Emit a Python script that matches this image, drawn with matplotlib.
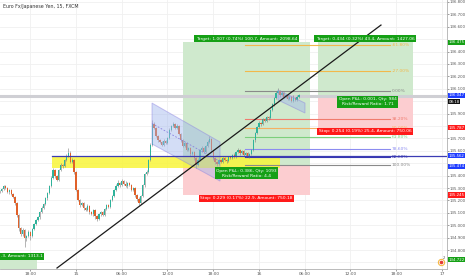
import numpy as np
import matplotlib.pyplot as plt
from matplotlib.patches import Polygon, Rectangle

# 15 minute candles of EUR/JPY, hours counted from the 15th 00:00
closes = [135.276, 135.292, 135.316, 135.300, 135.268, 135.284, 135.252, 135.227, 135.179, 135.082,
          134.977, 134.929, 134.961, 134.897, 134.913, 134.945, 134.913, 134.969, 135.010, 135.042,
          135.066, 135.106, 135.139, 135.171, 135.219, 135.260, 135.316, 135.381, 135.445, 135.397,
          135.364, 135.445, 135.485, 135.477, 135.526, 135.558, 135.582, 135.510, 135.526, 135.429,
          135.284, 135.203, 135.163, 135.179, 135.139, 135.123, 135.155, 135.106, 135.090, 135.123,
          135.074, 135.050, 135.090, 135.106, 135.082, 135.131, 135.163, 135.147, 135.203, 135.235,
          135.284, 135.316, 135.340, 135.324, 135.356, 135.332, 135.316, 135.340, 135.324, 135.284,
          135.300, 135.243, 135.211, 135.179, 135.235, 135.324, 135.413, 135.429, 135.526, 135.647,
          135.816, 135.784, 135.719, 135.687, 135.671, 135.647, 135.679, 135.663, 135.703, 135.768,
          135.800, 135.816, 135.784, 135.800, 135.735, 135.687, 135.639, 135.663, 135.606, 135.623,
          135.574, 135.590, 135.542, 135.485, 135.526, 135.606, 135.623, 135.590, 135.639, 135.671,
          135.695, 135.606, 135.542, 135.510, 135.493, 135.526, 135.510, 135.542, 135.526, 135.518,
          135.550, 135.542, 135.566, 135.550, 135.590, 135.606, 135.582, 135.598, 135.566, 135.582,
          135.558, 135.574, 135.606, 135.687, 135.743, 135.792, 135.824, 135.816, 135.856, 135.840,
          135.872, 135.864, 135.929, 135.977, 136.026, 136.066, 136.082, 136.050, 136.066, 136.034,
          136.050, 136.018, 136.034, 136.002, 136.026, 136.010, 136.034, 136.047]
# wick lengths in thousandths of a yen
wick_up = [8, 10, 6, 12, 5, 9, 7, 10, 6, 8,
           12, 9, 15, 7, 10, 14, 8, 11, 9, 6,
           10, 7, 12, 8, 9, 6, 11, 14, 20, 10,
           8, 12, 15, 9, 10, 18, 40, 16, 12, 10,
           8, 6, 10, 9, 12, 7, 14, 8, 10, 9,
           6, 11, 8, 12, 7, 10, 9, 8, 11, 7,
           10, 14, 22, 12, 16, 10, 25, 9, 12, 8,
           10, 7, 9, 14, 8, 12, 10, 15, 9, 12,
           30, 14, 10, 8, 9, 12, 15, 10, 8, 12,
           10, 20, 9, 14, 8, 6, 10, 12, 8, 9,
           7, 10, 8, 6, 12, 9, 14, 8, 10, 16,
           22, 8, 6, 9, 7, 10, 8, 12, 6, 9,
           8, 11, 7, 14, 9, 18, 10, 8, 12, 7,
           9, 6, 10, 12, 8, 9, 14, 10, 12, 8,
           10, 9, 12, 8, 10, 14, 22, 10, 16, 8,
           12, 9, 14, 8, 20, 10, 12, 9]
wick_down = [10, 7, 12, 8, 9, 14, 6, 10, 12, 15,
             20, 14, 18, 73, 25, 12, 30, 10, 8, 12,
             9, 12, 7, 10, 8, 12, 9, 10, 8, 14,
             10, 8, 7, 12, 9, 8, 10, 12, 9, 14,
             12, 10, 15, 8, 14, 10, 12, 18, 9, 14,
             20, 15, 10, 12, 9, 11, 8, 10, 7, 9,
             8, 10, 7, 12, 9, 10, 8, 12, 9, 10,
             8, 12, 14, 18, 10, 9, 12, 8, 10, 9,
             8, 12, 10, 14, 12, 9, 10, 8, 12, 9,
             8, 10, 12, 9, 10, 14, 8, 12, 9, 10,
             12, 9, 14, 25, 10, 8, 12, 9, 10, 8,
             9, 12, 14, 18, 12, 10, 9, 12, 10, 14,
             10, 8, 12, 9, 10, 8, 12, 10, 9, 12,
             10, 14, 9, 8, 12, 10, 8, 12, 9, 10,
             8, 12, 9, 10, 12, 9, 10, 14, 8, 12,
             9, 10, 8, 12, 9, 10, 8, 9]
first_open = 135.268
start_hour = -10.0

time_ticks = [-6, 0, 6, 12, 18, 24, 30, 36, 42, 48]
time_names = ['18:00', '15', '06:00', '12:00', '18:00', '16', '06:00', '12:00', '18:00', '17']
price_ticks = [134.8, 134.9, 135.0, 135.1, 135.2, 135.3, 135.4, 135.6, 135.7,
               135.9, 136.1, 136.2, 136.3, 136.4, 136.6, 136.7, 136.8]
grid_prices = [134.7, 134.8, 134.9, 135.0, 135.1, 135.2, 135.3, 135.4, 135.5, 135.6, 135.7,
               135.8, 135.9, 136.0, 136.1, 136.2, 136.3, 136.4, 136.5, 136.6, 136.7, 136.8]

# left long position
left_t = [14.0, 30.7]
left_entry, left_target, left_stop = 135.474, 136.475, 135.245
# right long position
right_t = [31.7, 44.2]
right_entry, right_target, right_stop = 136.041, 136.475, 135.787

# fibonacci retracement
fib_t = [22.2, 41.2]
fib_high, fib_low = 136.082, 135.485
fib_levels = [-0.618, -0.27, 0, 0.382, 0.5, 0.618, 0.786, 0.886, 1.0]
fib_names = ['-61.80%', '-27.00%', '0.00%', '38.20%', '50.00%', '61.80%', '78.60%', '88.60%', '100.00%']
fib_colors = ['#f2b84b', '#f2b84b', '#8a8a8a', '#f07b6e', '#f5b062', '#7ccf7c', '#8c8cf0', '#3838b0', '#8a8a8a']

# drawings
trend_t = [-2.49, 40.0]
trend_p = [134.655, 136.614]
support = 135.562
zone_t = [-3.15, 26.75]
zone_low = 135.461
channel1_t = [9.97, 18.89, 18.89, 9.97]
channel1_p = [135.985, 135.671, 135.356, 135.655]
channel2_t = [26.49, 30.03, 30.03, 26.49]
channel2_p = [136.090, 135.985, 135.905, 136.010]
last_line = 136.041

axis_labels = [(136.475, '136.475', '#15a015'), (136.047, '136.047', '#1f3dff'),
               (135.997, '08:18', '#111111'), (135.787, '135.787', '#ff1a1a'),
               (135.562, '135.562', '#1f3dff'), (135.474, '135.474', '#1f3dff'),
               (135.245, '135.245', '#ff1a1a'), (134.722, '134.722', '#15a015')]

up_col = '#2fb39b'
down_col = '#e0612a'
green_lab = '#15a015'
red_lab = '#ff1a1a'

t = start_hour + 0.25 * np.arange(len(closes))
c = np.array(closes)
o = np.concatenate([[first_open], c[:-1]])
hi = np.maximum(o, c) + np.array(wick_up) / 1000
lo = np.minimum(o, c) - np.array(wick_down) / 1000

fig = plt.figure(figsize=(4.66, 2.75), dpi=100)
ax = fig.add_axes([0, 6 / 275, 447 / 466, 269 / 275])
ax.set_xlim(-9.967, 48.66)
ax.set_ylim(134.647, 136.816)

for x in time_ticks:
    ax.axvline(x, color='#f0f0f0', lw=0.6, zorder=0)
for p in grid_prices:
    ax.axhline(p, color='#f0f0f0', lw=0.6, zorder=0)

# position boxes
ax.add_patch(Rectangle((left_t[0], left_entry), left_t[1] - left_t[0], left_target - left_entry,
                       fc='#cfe9cd', ec='none', zorder=1))
ax.add_patch(Rectangle((left_t[0], left_stop), left_t[1] - left_t[0], left_entry - left_stop,
                       fc='#fccdd0', ec='none', zorder=1))
ax.add_patch(Rectangle((right_t[0], right_entry), right_t[1] - right_t[0], right_target - right_entry,
                       fc='#cfe9cd', ec='none', zorder=1))
ax.add_patch(Rectangle((right_t[0], right_stop), right_t[1] - right_t[0], right_entry - right_stop,
                       fc='#fccdd0', ec='none', zorder=1))
ax.add_patch(Rectangle((start_hour, 134.6), 4.9, 134.72 - 134.6, fc='#cfe9cd', ec='none', zorder=1))

# yellow zone and support line
ax.add_patch(Rectangle((zone_t[0], zone_low), zone_t[1] - zone_t[0], support - zone_low,
                       fc='#f8f53a', alpha=0.85, ec='none', zorder=1.5))
ax.plot([zone_t[0], 48.66], [support, support], color='#3c3cb4', lw=0.9, zorder=4)
ax.axhline(last_line, color='#cfcfd4', lw=2.2, zorder=1.2)

# fib levels
fib_prices = [fib_high - lv * (fib_high - fib_low) for lv in fib_levels]
for p, name, col in zip(fib_prices, fib_names, fib_colors):
    ax.plot(fib_t, [p, p], color=col, lw=0.8, zorder=2)
    ax.text(fib_t[1] + 0.2, p, name, color=col, fontsize=3.2, va='center', ha='left', zorder=5)

# candles
up = c >= o
ax.vlines(t, lo, hi, color='#7d7d7d', lw=0.4, zorder=3)
ax.bar(t, np.maximum(np.abs(c - o), 0.003), bottom=np.minimum(o, c), width=0.17,
       color=np.where(up, up_col, down_col), zorder=3.2)

# channels
ax.add_patch(Polygon(list(zip(channel1_t, channel1_p)), closed=True, fc='#9fb4ec', alpha=0.45,
                     ec='#8a7fe0', lw=0.7, zorder=3.5))
ax.plot([channel1_t[0], channel1_t[1]],
        [(channel1_p[0] + channel1_p[3]) / 2, (channel1_p[1] + channel1_p[2]) / 2],
        color='#8a7fe0', lw=0.6, ls=(0, (2, 2)), zorder=3.6)
ax.add_patch(Polygon(list(zip(channel2_t, channel2_p)), closed=True, fc='#9fb4ec', alpha=0.45,
                     ec='#8a7fe0', lw=0.7, zorder=3.5))

# trend line
ax.plot(trend_t, trend_p, color='#1a1a1a', lw=0.9, zorder=6)

# position labels
box = lambda col: dict(boxstyle='square,pad=0.35', fc=col, ec='none')
lc = (left_t[0] + left_t[1]) / 2
rc = (right_t[0] + right_t[1]) / 2
ax.text(lc, left_target + 0.012, 'Target: 1.007 (0.74%) 100.7, Amount: 2098.64', color='white',
        fontsize=3.2, ha='center', va='bottom', bbox=box(green_lab), zorder=7)
ax.text(lc, left_stop - 0.012, 'Stop: 0.229 (0.17%) 22.9, Amount: 750.18', color='white',
        fontsize=3.2, ha='center', va='top', bbox=box(red_lab), zorder=7)
ax.text(lc, 135.42, 'Open P&L: 0.386, Qty: 1093\nRisk/Reward Ratio: 4.4', color='white',
        fontsize=3.2, ha='center', va='center', linespacing=1.3, bbox=box(green_lab), zorder=7)
ax.text(rc, right_target + 0.012, 'Target: 0.434 (0.32%) 43.4, Amount: 1427.06', color='white',
        fontsize=3.2, ha='center', va='bottom', bbox=box(green_lab), zorder=7)
ax.text(rc, right_stop - 0.012, 'Stop: 0.254 (0.19%) 25.4, Amount: 750.06', color='white',
        fontsize=3.2, ha='center', va='top', bbox=box(red_lab), zorder=7)
ax.text(rc + 0.3, 135.995, 'Open P&L: 0.001, Qty: 984\nRisk/Reward Ratio: 1.71', color='white',
        fontsize=3.2, ha='center', va='center', linespacing=1.3, bbox=box(green_lab), zorder=7)
ax.text(-9.9, 134.735, '.3, Amount: 1313.1', color='white',
        fontsize=3.2, ha='left', va='bottom', bbox=box(green_lab), zorder=7)

# bottom right alert icon
ax.plot([47.85], [134.703], 'o', ms=4.5, mfc='white', mec='#f5b942', mew=0.8, zorder=7)
ax.plot([47.85], [134.703], 'o', ms=1.6, color='#e53935', zorder=8)
ax.text(48.15, 134.73, '2', fontsize=2.6, color='#555555', zorder=8)

ax.text(0.007, 0.985, 'Euro Fx/Japanese Yen, 15, FXCM', transform=ax.transAxes, fontsize=3.4,
        color='#333333', ha='left', va='top')

# axes
ax.set_xticks(time_ticks)
ax.set_xticklabels(time_names)
ax.yaxis.tick_right()
ax.set_yticks(price_ticks)
ax.set_yticklabels(['%.3f' % p for p in price_ticks])
ax.tick_params(axis='x', labelsize=3.1, colors='#555555', length=1.5, width=0.4, pad=1)
ax.tick_params(axis='y', labelsize=2.8, colors='#555555', length=1.2, width=0.4, pad=0.6)
for s in ['top', 'left']:
    ax.spines[s].set_visible(False)
for s in ['right', 'bottom']:
    ax.spines[s].set_color('#b0b0b0')
    ax.spines[s].set_linewidth(0.6)

ytr = ax.get_yaxis_transform()
for p, txt, col in axis_labels:
    ax.text(1.003, p, txt, transform=ytr, fontsize=2.8, color='white', ha='left', va='center',
            bbox=dict(boxstyle='square,pad=0.2', fc=col, ec='none'), clip_on=False, zorder=9)

fig.savefig('out.png', dpi=100)
